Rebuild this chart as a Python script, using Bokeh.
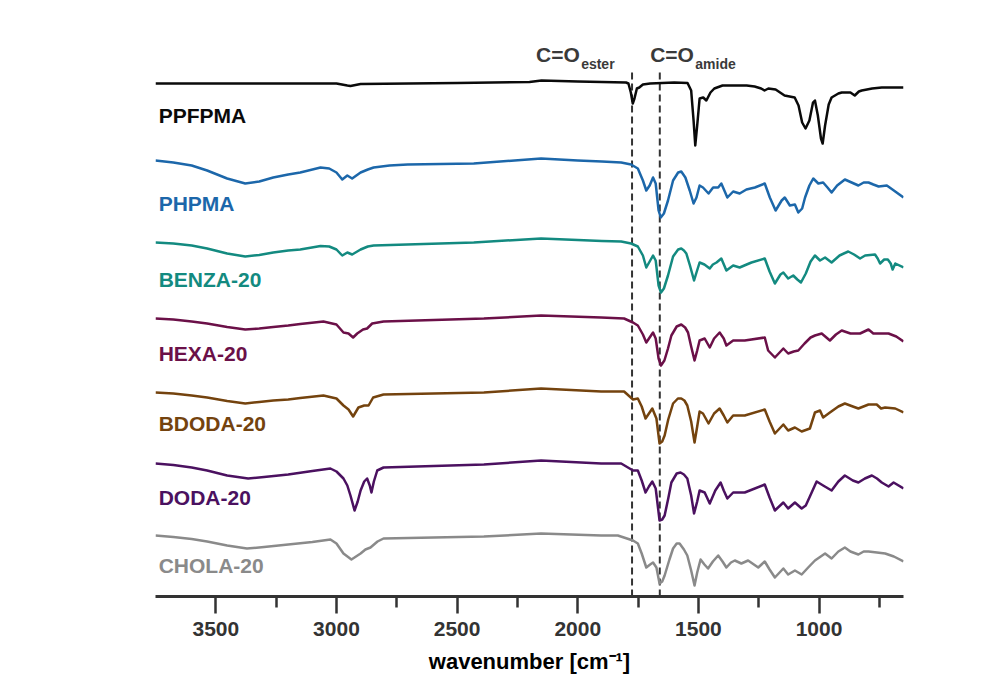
from bokeh.plotting import figure
from bokeh.models import Range1d, FixedTicker, ColumnDataSource
from bokeh.core.properties import value
from bokeh.embed import file_html
from bokeh.resources import INLINE

# ---------------- data ----------------
names = ["PPFPMA", "PHPMA", "BENZA-20", "HEXA-20", "BDODA-20", "DODA-20", "CHOLA-20"]
colors = ["#0a0a0a", "#1c67aa", "#138a80", "#6b1048", "#74430e", "#4b1160", "#8a8a8a"]
offsets = [514, 436, 355, 278, 205, 133, 61]   # vertical stacking offsets (a.u.)

# (wavenumber [cm-1], relative transmittance [a.u.])
ppfpma = [(3750, -1), (3400, -1), (3000, -1), (2955, -3), (2942, -3.5), (2900, -1.5), (2500, -0.5),
          (2200, 0.5), (2150, 2), (2000, 1), (1900, 0.5), (1800, 0), (1790, -1), (1780, -10), (1772, -21),
          (1765, -16), (1755, -6), (1745, -5), (1730, -2), (1700, -1), (1600, 0), (1545, -0.5), (1530, -8),
          (1520, -38), (1513, -63), (1505, -43), (1495, -16), (1480, -15), (1467, -18), (1450, -10),
          (1434, -6), (1400, -3), (1300, -3), (1267, -4), (1240, -6), (1226, -8), (1210, -6), (1180, -7),
          (1143, -13), (1101, -15), (1085, -23), (1070, -40), (1056, -46), (1040, -38), (1025, -20),
          (1017, -18), (1005, -33), (992, -56), (985, -61), (975, -43), (960, -22), (948, -15), (920, -11),
          (906, -10), (870, -10), (852, -13), (835, -9), (823, -8), (780, -6), (740, -5), (700, -5), (650, -5)]

phpma = [(3750, 0), (3676, -2), (3600, -5), (3536, -10), (3453, -18), (3378, -23), (3320, -21),
         (3262, -17), (3200, -14), (3150, -12), (3066, -7), (3030, -8), (3000, -12), (2976, -19),
         (2955, -15), (2935, -18), (2900, -12), (2870, -9), (2846, -7), (2780, -5), (2705, -4),
         (2431, -3), (2152, 2), (2000, 0), (1900, -1), (1820, -2), (1779, -4), (1751, -8), (1730, -20),
         (1716, -30), (1702, -25), (1688, -17), (1677, -23), (1665, -50), (1656, -57), (1643, -53),
         (1626, -40), (1605, -20), (1584, -12), (1571, -11), (1554, -17), (1536, -30), (1520, -43),
         (1508, -37), (1495, -25), (1481, -27), (1458, -33), (1439, -27), (1418, -27), (1405, -23),
         (1380, -37), (1356, -31), (1329, -33), (1301, -29), (1266, -27), (1225, -23), (1204, -37),
         (1180, -50), (1155, -40), (1142, -37), (1121, -45), (1100, -44), (1086, -52), (1070, -48),
         (1058, -37), (1040, -25), (1024, -18), (1003, -23), (983, -22), (965, -27), (948, -32),
         (925, -25), (893, -19), (865, -22), (837, -25), (815, -22), (795, -22), (775, -24), (753, -26),
         (719, -25), (690, -30), (650, -37)]

benza = [(3750, -1), (3676, -2), (3600, -4), (3536, -7), (3453, -12), (3378, -15), (3320, -13.5),
         (3262, -11), (3200, -9), (3150, -8), (3066, -4.5), (3030, -5), (3000, -8), (2976, -14),
         (2955, -11), (2935, -13), (2900, -8), (2870, -5), (2846, -4), (2431, -1), (2152, 3), (2000, 1.5),
         (1900, 0.5), (1820, 0), (1779, -2), (1751, -5), (1730, -14), (1716, -26), (1702, -20), (1688, -14),
         (1677, -19), (1665, -44), (1655, -51), (1643, -47), (1626, -34), (1605, -15), (1584, -8),
         (1571, -7), (1560, -9), (1550, -12), (1535, -24), (1518, -39), (1508, -31), (1495, -21),
         (1475, -23), (1453, -27), (1440, -23), (1425, -21), (1405, -17), (1384, -29), (1356, -24),
         (1329, -26), (1300, -23), (1280, -21), (1225, -17), (1205, -30), (1183, -42), (1160, -33),
         (1148, -31), (1128, -37), (1107, -34), (1090, -38), (1075, -41), (1055, -32), (1035, -20),
         (1017, -14), (996, -19), (975, -16), (948, -21), (915, -14), (879, -10), (855, -13), (830, -17),
         (809, -14), (768, -13), (757, -17), (747, -22), (730, -18), (715, -18), (703, -22), (695, -28),
         (684, -22), (650, -26)]

hexa = [(3750, 0), (3676, -1), (3600, -3), (3536, -5), (3453, -8.5), (3378, -11), (3320, -10),
        (3262, -8.5), (3200, -7), (3150, -5.5), (3054, -3), (3000, -6), (2971, -14), (2950, -15),
        (2931, -19), (2914, -15), (2890, -11), (2873, -10), (2852, -5), (2805, -3), (2389, 0), (2152, 3),
        (1903, 1), (1808, 0), (1771, -4), (1751, -7), (1730, -16), (1716, -24), (1702, -19), (1688, -14),
        (1677, -20), (1665, -40), (1655, -47), (1641, -42), (1626, -30), (1612, -17), (1590, -8),
        (1571, -6), (1555, -9), (1543, -14), (1530, -28), (1516, -42), (1505, -32), (1495, -22),
        (1474, -20), (1453, -29), (1435, -20), (1412, -14), (1395, -20), (1384, -27), (1356, -22),
        (1308, -22), (1225, -19), (1211, -32), (1183, -39), (1148, -30), (1128, -35), (1105, -33),
        (1086, -32), (1060, -25), (1035, -19), (1017, -17), (989, -15), (955, -22), (930, -16), (906, -12),
        (870, -15), (830, -15), (795, -11), (775, -15), (753, -15), (712, -15), (680, -18), (650, -23)]

bdoda = [(3750, -1), (3676, -2), (3600, -4), (3536, -6), (3453, -9.5), (3378, -12), (3320, -10.5),
         (3262, -9), (3200, -8), (3150, -6.5), (3054, -4), (3000, -7), (2971, -14), (2950, -18),
         (2931, -25), (2909, -16), (2885, -14), (2867, -14), (2848, -6), (2805, -3), (2389, -1), (2152, 3),
         (1903, 0), (1808, 0), (1771, -8), (1751, -7), (1735, -15), (1719, -27), (1705, -22), (1691, -17),
         (1674, -27), (1661, -52), (1650, -50), (1640, -44), (1625, -28), (1605, -12), (1585, -7),
         (1571, -7), (1558, -9), (1546, -14), (1530, -30), (1516, -51), (1505, -35), (1495, -20),
         (1481, -22), (1458, -32), (1435, -22), (1412, -17), (1395, -24), (1380, -31), (1356, -24),
         (1308, -24), (1225, -18), (1205, -30), (1183, -42), (1148, -33), (1128, -39), (1100, -36),
         (1072, -40), (1038, -37), (1017, -21), (996, -19), (983, -26), (955, -21), (920, -15), (893, -12),
         (860, -15), (837, -17), (795, -13), (761, -13), (743, -17), (726, -16), (684, -17), (650, -21)]

doda = [(3750, 0), (3676, -1.5), (3600, -4), (3536, -7), (3453, -12), (3366, -15), (3300, -13.5),
        (3200, -11), (3100, -7.5), (3025, -5), (3000, -8), (2971, -15), (2955, -22), (2942, -32),
        (2925, -47), (2912, -38), (2900, -27), (2885, -18), (2873, -15), (2862, -22), (2855, -29),
        (2845, -18), (2831, -7), (2805, -4), (2389, -1), (2152, 3), (1903, 0), (1820, 0), (1771, -7),
        (1751, -7), (1735, -17), (1719, -29), (1705, -23), (1691, -18), (1677, -25), (1661, -57),
        (1650, -56), (1640, -52), (1625, -35), (1612, -19), (1590, -10), (1574, -9), (1560, -11),
        (1546, -15), (1530, -32), (1518, -50), (1505, -38), (1495, -27), (1474, -29), (1453, -40),
        (1430, -27), (1408, -19), (1395, -27), (1380, -35), (1356, -29), (1308, -29), (1225, -21),
        (1205, -34), (1183, -47), (1148, -39), (1128, -45), (1100, -39), (1072, -45), (1055, -42),
        (1038, -33), (1010, -18), (983, -22), (948, -27), (920, -18), (893, -12), (860, -17), (837, -19),
        (810, -15), (781, -12), (760, -15), (740, -19), (712, -23), (691, -19), (650, -25)]

chola = [(3750, 0), (3676, -1.5), (3600, -3.5), (3536, -6), (3453, -10), (3371, -13), (3300, -11.5),
         (3200, -9), (3100, -6.5), (3025, -4), (3000, -8), (2971, -18), (2938, -24), (2900, -18),
         (2880, -14), (2859, -12), (2830, -6), (2805, -3), (2389, -1), (2152, 2), (1903, 0), (1834, 0),
         (1771, -5), (1751, -8), (1735, -18), (1716, -32), (1700, -29), (1688, -27), (1674, -32),
         (1661, -48), (1650, -46), (1640, -40), (1620, -24), (1605, -13), (1590, -8), (1578, -8),
         (1560, -14), (1546, -20), (1530, -35), (1516, -50), (1505, -37), (1491, -24), (1475, -29),
         (1460, -33), (1440, -26), (1418, -20), (1400, -26), (1384, -32), (1365, -27), (1349, -25),
         (1322, -28), (1294, -25), (1270, -29), (1252, -32), (1225, -26), (1205, -34), (1183, -42),
         (1148, -33), (1128, -39), (1100, -35), (1072, -39), (1045, -32), (1017, -25), (975, -18),
         (948, -23), (920, -16), (893, -12), (870, -16), (837, -19), (815, -16), (795, -16), (760, -17),
         (726, -18), (690, -21), (650, -26)]

spectra = [ppfpma, phpma, benza, hexa, bdoda, doda, chola]

marker_wn = [1775, 1660]          # C=O ester / C=O amide
major_ticks = [3500, 3000, 2500, 2000, 1500, 1000]
minor_ticks = [3250, 2750, 2250, 1750, 1250, 750]

# ---------------- figure ----------------
FONT = "Liberation Sans"
p = figure(width=988, height=693, output_backend="svg", toolbar_location=None,
           x_range=Range1d(3750, 650), y_range=Range1d(0, 566),
           y_axis_location=None, min_border_left=155, min_border_right=85,
           min_border_top=30, min_border_bottom=97,
           background_fill_color="white", border_fill_color="white")
p.outline_line_color = None
p.grid.visible = False

ax = p.xaxis[0]
ax.ticker = FixedTicker(ticks=major_ticks, minor_ticks=minor_ticks)
ax.axis_line_width = 3
ax.axis_line_color = "#333333"
ax.major_tick_line_width = 2.5
ax.major_tick_line_color = "#333333"
ax.minor_tick_line_width = 2.5
ax.minor_tick_line_color = "#333333"
ax.major_tick_in = 0
ax.major_tick_out = 17
ax.minor_tick_in = 0
ax.minor_tick_out = 11
ax.major_label_text_font = FONT
ax.major_label_text_font_size = "21px"
ax.major_label_text_font_style = "bold"
ax.major_label_text_color = "#333333"
ax.major_label_standoff = 8
ax.axis_label = "wavenumber [cm\u207b\u00b9]"
ax.axis_label_text_font = FONT
ax.axis_label_text_font_size = "22px"
ax.axis_label_text_font_style = "bold"
ax.axis_label_text_color = "#000000"
ax.axis_label_standoff = 10

# dashed marker lines
p.segment(x0=marker_wn, y0=[0, 0], x1=marker_wn, y1=[524, 524],
          line_color="#333333", line_width=2, line_dash="7 4")

# spectra
for spec, off, col in zip(spectra, offsets, colors):
    wn = [w for w, _ in spec]
    yy = [v + off for _, v in spec]
    src = ColumnDataSource(dict(x=wn, y=yy))
    p.line("x", "y", source=src, line_color=col, line_width=2.5, line_join="round")

# sample labels
label_y = [481, 393, 317, 243.5, 173, 99, 31]
p.text(x=[3737] * len(names), y=label_y, text=names, text_color=colors,
       text_font=value(FONT), text_font_size="21px", text_font_style="bold",
       text_align="left", text_baseline="middle")

# C=O annotations (main text + subscripts)
p.text(x=[2173, 1700], y=[542, 542], text=["C=O", "C=O"], text_color="#3a3a3a",
       text_font=value(FONT), text_font_size="21px", text_font_style="bold",
       text_align="left", text_baseline="middle")
p.text(x=[1986, 1513], y=[533, 533], text=["ester", "amide"], text_color="#3a3a3a",
       text_font=value(FONT), text_font_size="14px", text_font_style="bold",
       text_align="left", text_baseline="middle")

open("out.html", "w").write(file_html(p, INLINE))
